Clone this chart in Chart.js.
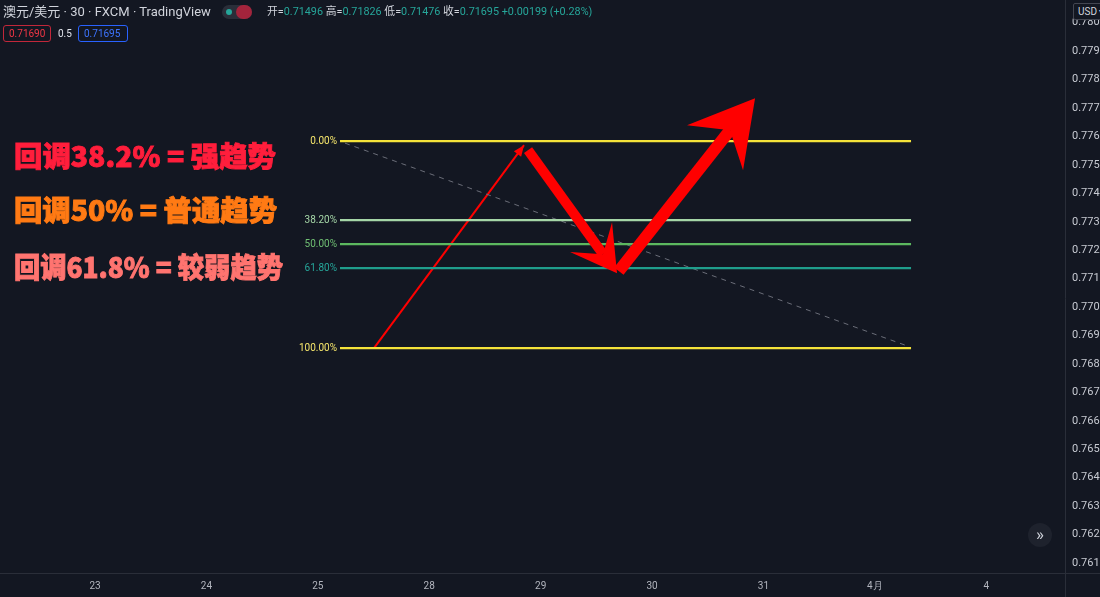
<!DOCTYPE html>
<html><head><meta charset="utf-8">
<script src="https://cdn.jsdelivr.net/npm/chart.js@4.4.1/dist/chart.umd.min.js"></script>
<style>
html,body{margin:0;padding:0;background:#131722;}
#wrap{position:relative;width:1100px;height:597px;overflow:hidden;background:#131722;font-family:Roboto,"Noto Sans CJK SC",sans-serif;}
#c{position:absolute;left:0;top:0;}
.hdr{position:absolute;left:3px;top:3px;font-size:13px;color:#d1d4dc;white-space:nowrap;line-height:18px;}
.tog{position:absolute;left:222px;top:5px;width:30px;height:14px;border-radius:7px;background:#2a2e39;}
.tog .dot{position:absolute;left:4px;top:4px;width:6px;height:6px;border-radius:3px;background:#26a69a;}
.tog .pill{position:absolute;left:14px;top:0;width:16px;height:14px;border-radius:7px;background:#a3243c;}
.ohlc{position:absolute;left:267px;top:5px;font-size:10.8px;color:#d1d4dc;white-space:nowrap;line-height:14px;}
.ohlc .v{color:#26a69a;}
.box{position:absolute;top:25px;height:17px;line-height:15px;font-size:10px;border:1px solid;border-radius:3px;padding:0 5px;box-sizing:border-box;}
.lbl{position:absolute;left:58px;top:26px;font-size:10px;color:#e0e3eb;line-height:15px;}
.usd{position:absolute;left:1073px;top:3px;height:17px;line-height:15px;font-size:10px;color:#d1d4dc;border:1px solid #434651;border-radius:2px;padding:0 4px;background:#131722;white-space:nowrap;box-sizing:border-box;}
.chev{position:absolute;left:1028px;top:523px;width:24px;height:24px;border-radius:12px;background:#1e222d;color:#d1d4dc;font-size:17px;line-height:22px;text-align:center;}
.ann{position:absolute;left:14px;font-family:"Noto Sans CJK SC",sans-serif;font-weight:900;font-size:28px;white-space:nowrap;line-height:28px;transform-origin:0 0;-webkit-text-stroke:0.9px currentColor;text-shadow:0 0 1px #000;}
</style></head>
<body>
<div id="wrap">
<canvas id="c" width="1100" height="597"></canvas>
<div class="hdr">澳元/美元 · 30 · FXCM · TradingView</div>
<div class="tog"><div class="dot"></div><div class="pill"></div></div>
<div class="ohlc">开=<span class="v">0.71496</span> 高=<span class="v">0.71826</span> 低=<span class="v">0.71476</span> 收=<span class="v">0.71695</span> <span class="v">+0.00199 (+0.28%)</span></div>
<div class="box" style="left:3px;width:48px;border-color:#c2273a;color:#f23645;">0.71690</div>
<div class="lbl">0.5</div>
<div class="box" style="left:78px;width:50px;border-color:#2962ff;color:#3d74ff;">0.71695</div>
<div class="usd">USD ▾</div>
<div class="chev">»</div>
<div class="ann" data-w="262" style="top:141px;color:#ff1e3c;">回调38.2% = 强趋势</div>
<div class="ann" data-w="263" style="top:195px;color:#ff7a14;">回调50% = 普通趋势</div>
<div class="ann" data-w="269" style="top:252px;color:#ff7470;">回调61.8% = 较弱趋势</div>
</div>
<script>
// ---- data ----
const xTickLabels = ['23','24','25','28','29','30','31','4月','4'];
const yTickValues = [0.7610,0.7620,0.7630,0.7640,0.7650,0.7660,0.7670,0.7680,0.7690,0.7700,0.7710,0.7720,0.7730,0.7740,0.7750,0.7760,0.7770,0.7780,0.7790,0.7800];
const fibLevels = ['0.00%','38.20%','50.00%','61.80%','100.00%'];
const fibPrices = [0.775836,0.773059,0.772215,0.771371,0.768559];
const fibRange = [2.199,7.325];
const impulseX = [2.504,3.851];
const impulseY = [0.768559,0.775696];
const trendX = [2.244,7.271];
const trendY = [0.775766,0.768664];
// big arrows: tail, neck, tip, wingL, wingR
const arrowDownX = [3.887,4.560,4.686,4.264,4.641];
const arrowDownY = [0.775520,0.771863,0.771195,0.771934,0.772988];
const arrowUpX = [4.702,5.700,5.925,5.314,5.817];
const arrowUpY = [0.771266,0.776223,0.777348,0.776399,0.774817];

// ---- styles ----
const fibColors = ['#f5e33a','#a5d6a7','#5cb85f','#1f9e8c','#f5e33a'];
const fibTextColors = ['#f5e56b','#a5d6a7','#6fbf73','#26a69a','#f5e56b'];
const RED = '#ff0000';

document.querySelectorAll('.ann').forEach(el=>{
  const w = el.getBoundingClientRect().width;
  el.style.transform = 'scaleX(' + (Number(el.dataset.w)/w) + ')';
});

const datasets = fibPrices.map((p,i)=>({
  data:[{x:fibRange[0],y:p},{x:fibRange[1],y:p}],
  borderColor:fibColors[i], borderWidth:2.2, pointRadius:0
}));
datasets.push({data:trendX.map((x,i)=>({x,y:trendY[i]})),borderColor:'#6a6d78',borderWidth:1,borderDash:[5,5],pointRadius:0});
datasets.push({data:impulseX.map((x,i)=>({x,y:impulseY[i]})),borderColor:RED,borderWidth:2,pointRadius:0});

function P(chart,x,y){return [chart.scales.x.getPixelForValue(x),chart.scales.y.getPixelForValue(y)];}
function bigArrow(ctx,chart,xs,ys,w){
  const pts = xs.map((x,i)=>P(chart,x,ys[i]));
  const [T,N,Tip,L,R] = pts;
  ctx.strokeStyle=RED; ctx.fillStyle=RED; ctx.lineWidth=w; ctx.lineCap='butt';
  ctx.beginPath(); ctx.moveTo(T[0],T[1]); ctx.lineTo(N[0],N[1]); ctx.stroke();
  ctx.beginPath(); ctx.moveTo(Tip[0],Tip[1]); ctx.lineTo(L[0],L[1]); ctx.lineTo(N[0],N[1]); ctx.lineTo(R[0],R[1]); ctx.closePath(); ctx.fill();
}

const deco = {
  id:'deco',
  beforeDraw(chart){const c=chart.ctx;c.save();c.fillStyle='#131722';c.fillRect(0,0,chart.width,chart.height);c.restore();},
  afterDatasetsDraw(chart){
    const c=chart.ctx; c.save();
    const A=P(chart,impulseX[0],impulseY[0]), B=P(chart,impulseX[1],impulseY[1]);
    const ang=Math.atan2(B[1]-A[1],B[0]-A[0]);
    c.fillStyle=RED; c.beginPath();
    c.moveTo(B[0],B[1]);
    c.lineTo(B[0]-11*Math.cos(ang)+4.5*Math.sin(ang),B[1]-11*Math.sin(ang)-4.5*Math.cos(ang));
    c.lineTo(B[0]-11*Math.cos(ang)-4.5*Math.sin(ang),B[1]-11*Math.sin(ang)+4.5*Math.cos(ang));
    c.closePath(); c.fill();
    c.font='10px Roboto'; c.textAlign='right'; c.textBaseline='middle';
    const lx=chart.scales.x.getPixelForValue(fibRange[0])-3;
    fibLevels.forEach((t,i)=>{c.fillStyle=fibTextColors[i];c.fillText(t,lx,chart.scales.y.getPixelForValue(fibPrices[i])+0.5);});
    bigArrow(c,chart,arrowDownX,arrowDownY,10);
    bigArrow(c,chart,arrowUpX,arrowUpY,12);
    c.restore();
  },
  afterDraw(chart){
    const c=chart.ctx; c.save(); c.strokeStyle='#2a2e39'; c.lineWidth=1;
    const a=chart.chartArea;
    c.beginPath(); c.moveTo(0,a.bottom+0.5); c.lineTo(chart.width,a.bottom+0.5); c.stroke();
    c.beginPath(); c.moveTo(a.right+0.5,0); c.lineTo(a.right+0.5,chart.height); c.stroke();
    c.restore();
  }
};

new Chart(document.getElementById('c'),{
  type:'line',
  data:{datasets},
  options:{
    responsive:false, animation:false, devicePixelRatio:1,
    layout:{padding:0},
    plugins:{legend:{display:false},tooltip:{enabled:false}},
    elements:{line:{tension:0}},
    scales:{
      x:{type:'linear',min:-0.853,max:8.707,
        grid:{display:false,drawTicks:false},border:{display:false},
        afterBuildTicks(s){s.ticks=xTickLabels.map((_,i)=>({value:i}));},
        ticks:{autoSkip:false,maxRotation:0,padding:7,color:'#b2b5be',font:{size:10,family:'Roboto'},callback:(v,i)=>xTickLabels[i]},
        afterFit(s){s.height=24;s.paddingLeft=0;s.paddingRight=0;s.paddingTop=0;s.paddingBottom=0;}},
      y:{type:'linear',position:'right',min:0.76065,max:0.7808,
        grid:{display:false,drawTicks:false},border:{display:false},
        afterBuildTicks(s){s.ticks=yTickValues.map(v=>({value:v}));},
        ticks:{padding:7,color:'#c8cbd3',font:{size:11,family:'Roboto'},callback:v=>Number(v).toFixed(4)},
        afterFit(s){s.width=35;s.paddingTop=0;s.paddingBottom=0;s.paddingLeft=0;s.paddingRight=0;}}
    }
  },
  plugins:[deco]
});
</script>
</body></html>
